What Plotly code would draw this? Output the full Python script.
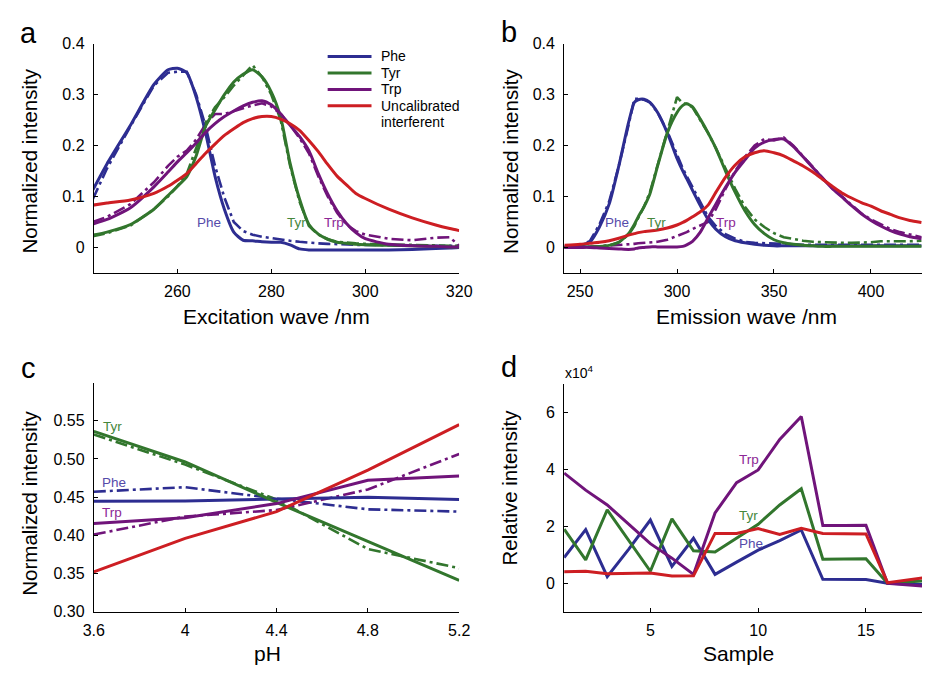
import plotly.graph_objects as go

# ---------------- Panel a: excitation spectra ----------------
ex_wl = [242, 245, 250, 255, 258, 260, 262, 264, 266, 268, 270, 272, 274, 276, 278, 280,
         282, 284, 286, 288, 290, 292, 294, 296, 298, 300, 305, 310, 315, 318, 320]
ex_phe = [0.113, 0.164, 0.240, 0.320, 0.349, 0.352, 0.343, 0.295, 0.225, 0.140, 0.075, 0.030,
          0.014, 0.013, 0.011, 0.010, 0.010, 0.005, -0.003, -0.005, -0.005, -0.005, -0.005,
          -0.005, -0.005, -0.005, -0.005, -0.004, -0.002, -0.001, 0.000]
ex_phe_p = [0.095, 0.155, 0.238, 0.318, 0.343, 0.345, 0.345, 0.300, 0.238, 0.160, 0.098, 0.050,
            0.032, 0.025, 0.021, 0.018, 0.016, 0.013, 0.011, 0.009, 0.008, 0.007, 0.006,
            0.006, 0.005, 0.005, 0.004, 0.004, 0.003, 0.003, 0.003]
ex_tyr = [0.024, 0.030, 0.045, 0.075, 0.102, 0.120, 0.139, 0.180, 0.238, 0.270, 0.300, 0.325,
          0.340, 0.349, 0.335, 0.305, 0.255, 0.165, 0.095, 0.045, 0.026, 0.016, 0.010, 0.008,
          0.006, 0.005, 0.004, 0.003, 0.002, 0.001, 0.001]
ex_tyr_p = [0.022, 0.028, 0.043, 0.075, 0.100, 0.120, 0.145, 0.195, 0.245, 0.275, 0.295, 0.318,
            0.338, 0.358, 0.335, 0.300, 0.250, 0.160, 0.090, 0.042, 0.025, 0.016, 0.011, 0.009,
            0.008, 0.007, 0.006, 0.005, 0.004, 0.004, 0.003]
ex_trp = [0.046, 0.055, 0.078, 0.119, 0.148, 0.168, 0.186, 0.205, 0.226, 0.243, 0.257, 0.268,
          0.278, 0.285, 0.288, 0.280, 0.262, 0.240, 0.218, 0.190, 0.145, 0.105, 0.072, 0.047,
          0.029, 0.017, 0.006, 0.003, 0.002, 0.001, 0.001]
ex_trp_p = [0.050, 0.060, 0.085, 0.128, 0.160, 0.178, 0.190, 0.212, 0.242, 0.262, 0.262, 0.268,
            0.274, 0.279, 0.283, 0.277, 0.262, 0.240, 0.215, 0.185, 0.140, 0.100, 0.068, 0.045,
            0.032, 0.025, 0.017, 0.014, 0.019, 0.020, 0.003]
ex_unc = [0.083, 0.087, 0.093, 0.106, 0.120, 0.132, 0.145, 0.165, 0.185, 0.203, 0.220, 0.233,
          0.245, 0.253, 0.257, 0.257, 0.252, 0.243, 0.230, 0.210, 0.188, 0.163, 0.140, 0.123,
          0.106, 0.096, 0.075, 0.058, 0.044, 0.037, 0.033]

# ---------------- Panel b: emission spectra ----------------
em_wl = [242, 250, 255, 260, 265, 270, 275, 278, 280, 283, 286, 290, 295, 300, 303, 305, 308,
         312, 316, 320, 325, 330, 335, 340, 345, 350, 355, 360, 365, 370, 375, 380, 385, 390,
         395, 400, 405, 410, 415, 420, 426]
em_phe = [0.001, 0.004, 0.010, 0.040, 0.085, 0.160, 0.245, 0.285, 0.290, 0.291, 0.285, 0.265,
          0.225, 0.175, 0.150, 0.135, 0.112, 0.082, 0.055, 0.036, 0.021, 0.013, 0.009, 0.006,
          0.004, 0.003, 0.003, 0.003, 0.003, 0.003, 0.003, 0.003, 0.003, 0.003, 0.003, 0.003,
          0.003, 0.003, 0.003, 0.003, 0.003]
em_phe_p = [0.001, 0.004, 0.012, 0.045, 0.090, 0.160, 0.240, 0.292, 0.292, 0.290, 0.285, 0.265,
            0.228, 0.180, 0.155, 0.140, 0.118, 0.088, 0.060, 0.042, 0.026, 0.017, 0.011, 0.009,
            0.008, 0.007, 0.007, 0.006, 0.005, 0.005, 0.005, 0.005, 0.005, 0.005, 0.005, 0.005,
            0.005, 0.005, 0.005, 0.005, 0.005]
em_tyr = [0.000, 0.0005, 0.001, 0.002, 0.004, 0.010, 0.027, 0.045, 0.060, 0.080, 0.105, 0.160,
          0.225, 0.265, 0.279, 0.282, 0.276, 0.252, 0.225, 0.195, 0.150, 0.108, 0.072, 0.045,
          0.027, 0.015, 0.009, 0.006, 0.004, 0.003, 0.002, 0.002, 0.002, 0.002, 0.002, 0.002,
          0.002, 0.002, 0.002, 0.002, 0.002]
em_tyr_p = [0.000, 0.0005, 0.001, 0.002, 0.004, 0.010, 0.025, 0.042, 0.058, 0.080, 0.108, 0.160,
            0.225, 0.295, 0.283, 0.282, 0.275, 0.250, 0.225, 0.195, 0.155, 0.115, 0.080, 0.055,
            0.040, 0.028, 0.020, 0.016, 0.013, 0.011, 0.010, 0.010, 0.009, 0.009, 0.009, 0.010,
            0.012, 0.012, 0.011, 0.012, 0.013]
em_trp = [0.000, 0.000, 0.000, -0.001, -0.002, -0.003, -0.004, -0.003, -0.001, 0.000, 0.001,
          0.001, 0.001, 0.001, 0.002, 0.005, 0.012, 0.030, 0.058, 0.085, 0.118, 0.148, 0.172,
          0.195, 0.207, 0.212, 0.213, 0.198, 0.178, 0.157, 0.136, 0.116, 0.099, 0.082, 0.066,
          0.053, 0.042, 0.033, 0.026, 0.021, 0.017]
em_trp_p = [0.000, 0.000, 0.001, 0.002, 0.003, 0.004, 0.006, 0.007, 0.008, 0.009, 0.010, 0.011,
            0.015, 0.022, 0.027, 0.030, 0.036, 0.043, 0.050, 0.075, 0.115, 0.150, 0.178, 0.200,
            0.213, 0.210, 0.216, 0.200, 0.178, 0.158, 0.137, 0.116, 0.100, 0.083, 0.067, 0.055,
            0.045, 0.036, 0.030, 0.026, 0.020]
em_unc = [0.004, 0.006, 0.008, 0.010, 0.013, 0.018, 0.024, 0.027, 0.029, 0.031, 0.032, 0.034,
          0.038, 0.044, 0.049, 0.053, 0.060, 0.070, 0.083, 0.108, 0.138, 0.162, 0.178, 0.186,
          0.190, 0.186, 0.180, 0.170, 0.160, 0.148, 0.134, 0.120, 0.107, 0.097, 0.088, 0.081,
          0.072, 0.065, 0.058, 0.053, 0.049]

# ---------------- Panel c: pH ----------------
ph = [3.6, 4.0, 4.4, 4.8, 5.2]
ph_tyr = [0.536, 0.496, 0.443, 0.392, 0.341]
ph_tyr_p = [0.532, 0.4925, 0.447, 0.382, 0.357]
ph_phe = [0.4445, 0.445, 0.4475, 0.4497, 0.447]
ph_phe_p = [0.457, 0.463, 0.448, 0.434, 0.431]
ph_trp = [0.4156, 0.423, 0.4415, 0.472, 0.4777]
ph_trp_p = [0.401, 0.4245, 0.433, 0.460, 0.5065]
ph_unc = [0.352, 0.396, 0.431, 0.4853, 0.545]

# ---------------- Panel d: samples (x10^4) ----------------
sample = list(range(1, 19))
s_trp = [3.87, 3.27, 2.75, 2.07, 1.39, 0.88, 0.31, 2.47, 3.53, 3.98, 5.05, 5.86, 2.03, 2.03,
         2.04, 0.00, -0.05, -0.12]
s_tyr = [1.90, 0.82, 2.58, 1.50, 0.42, 2.26, 1.14, 1.10, 1.60, 2.07, 2.75, 3.32, 0.84, 0.85,
         0.86, 0.00, 0.05, 0.10]
s_phe = [0.90, 1.88, 0.23, 1.20, 2.22, 0.59, 1.58, 0.31, 0.74, 1.16, 1.50, 1.87, 0.14, 0.14,
         0.13, 0.00, -0.02, -0.06]
s_unc = [0.40, 0.42, 0.33, 0.34, 0.36, 0.25, 0.26, 1.75, 1.75, 1.92, 1.71, 1.93, 1.75, 1.74,
         1.73, 0.02, 0.11, 0.22]

# ---------------- styling ----------------
BLUE = "rgb(45,45,145)"
GREEN = "rgb(50,118,45)"
PURPLE = "rgb(112,20,122)"
RED = "rgb(205,30,35)"
LBLUE = "rgb(85,75,170)"
LGREEN = "rgb(70,135,60)"
LPURPLE = "rgb(140,40,150)"
FONT = "Arial, Liberation Sans, sans-serif"
DASHDOT = "12px,4px,3px,4px"

W, H = 935, 674
def px_x(p):
    return p / W
def px_y(p):
    return 1 - p / H

fig = go.Figure()

def add(x, y, color, xa, ya, dash=None, width=3.0, shape="linear"):
    fig.add_trace(go.Scatter(
        x=x, y=y, mode="lines", xaxis=xa, yaxis=ya, showlegend=False,
        line=dict(color=color, width=width if dash is None else 2.6,
                  dash=dash if dash else "solid", shape=shape, smoothing=0.6 if shape == "spline" else None),
        hoverinfo="skip"))

# panel a
for ys, c in [(ex_phe_p, BLUE), (ex_tyr_p, GREEN), (ex_trp_p, PURPLE)]:
    add(ex_wl, ys, c, "x", "y", dash=DASHDOT)
for ys, c in [(ex_phe, BLUE), (ex_tyr, GREEN), (ex_trp, PURPLE), (ex_unc, RED)]:
    add(ex_wl, ys, c, "x", "y", shape="spline")
# panel b
for ys, c in [(em_phe_p, BLUE), (em_tyr_p, GREEN), (em_trp_p, PURPLE)]:
    add(em_wl, ys, c, "x2", "y2", dash=DASHDOT)
for ys, c in [(em_phe, BLUE), (em_tyr, GREEN), (em_trp, PURPLE), (em_unc, RED)]:
    add(em_wl, ys, c, "x2", "y2", shape="spline")
# panel c
for ys, c in [(ph_phe_p, BLUE), (ph_tyr_p, GREEN), (ph_trp_p, PURPLE)]:
    add(ph, ys, c, "x3", "y3", dash=DASHDOT)
for ys, c in [(ph_phe, BLUE), (ph_tyr, GREEN), (ph_trp, PURPLE), (ph_unc, RED)]:
    add(ph, ys, c, "x3", "y3")
# panel d
for ys, c in [(s_phe, BLUE), (s_tyr, GREEN), (s_trp, PURPLE), (s_unc, RED)]:
    add(sample, ys, c, "x4", "y4")

axis_common = dict(showline=True, linecolor="black", linewidth=1, ticks="inside", ticklen=4,
                   tickcolor="black", tickwidth=1, showgrid=False, zeroline=False, mirror=False,
                   tickfont=dict(family=FONT, size=16, color="black"))

dom_ax = [px_x(85), px_x(460)]
dom_bx = [px_x(567.7), 1.0]
dom_top = [px_y(271.7), px_y(36.7)]
dom_bot = [px_y(619.3), px_y(385)]

fig.update_layout(
    width=W, height=H, margin=dict(l=0, r=0, t=0, b=0),
    paper_bgcolor="white", plot_bgcolor="white", showlegend=False,
    font=dict(family=FONT, color="black"),
    xaxis=dict(domain=dom_ax, anchor="y", range=[242.2, 320], tickvals=[260, 280, 300, 320],
               ticklabelstandoff=4, **axis_common),
    yaxis=dict(domain=dom_top, anchor="x", range=[-0.05, 0.4], tickvals=[0, 0.1, 0.2, 0.3, 0.4],
               ticktext=["0", "0.1", "0.2", "0.3", "0.4"], ticklabelstandoff=5, **axis_common),
    xaxis2=dict(domain=dom_bx, anchor="y2", range=[241.8, 426.3], tickvals=[250, 300, 350, 400],
                ticklabelstandoff=4, **axis_common),
    yaxis2=dict(domain=dom_top, anchor="x2", range=[-0.05, 0.4], tickvals=[0, 0.1, 0.2, 0.3, 0.4],
                ticktext=["0", "0.1", "0.2", "0.3", "0.4"], ticklabelstandoff=5, **axis_common),
    xaxis3=dict(domain=dom_ax, anchor="y3", range=[3.6, 5.2], tickvals=[3.6, 4.0, 4.4, 4.8, 5.2],
                ticktext=["3.6", "4", "4.4", "4.8", "5.2"], ticklabelstandoff=4, **axis_common),
    yaxis3=dict(domain=dom_bot, anchor="x3", range=[0.30, 0.599],
                tickvals=[0.30, 0.35, 0.40, 0.45, 0.50, 0.55],
                ticktext=["0.30", "0.35", "0.40", "0.45", "0.50", "0.55"], ticklabelstandoff=5,
                **axis_common),
    xaxis4=dict(domain=dom_bx, anchor="y4", range=[1, 17.6], tickvals=[5, 10, 15],
                ticklabelstandoff=4, **axis_common),
    yaxis4=dict(domain=[px_y(619.3), px_y(385.7)], anchor="x4", range=[-1, 7], tickvals=[0, 2, 4, 6],
                ticklabelstandoff=5, **axis_common),
)

ann = []
def text(x, y, s, size, color="black", angle=0, xanchor="center", yanchor="middle"):
    ann.append(dict(x=px_x(x), y=px_y(y), xref="paper", yref="paper", text=s, showarrow=False,
                    font=dict(family=FONT, size=size, color=color), textangle=angle,
                    xanchor=xanchor, yanchor=yanchor))

# panel letters
text(18, 26, "a", 29)
text(511, 25, "b", 29)
text(18, 369, "c", 29)
text(511, 368, "d", 29)
# axis titles
text(272, 316, "Excitation wave /nm", 21)
text(755, 316, "Emission wave /nm", 21)
text(263, 662, "pH", 21)
text(747, 662, "Sample", 21)
text(19, 157, "Normalized intensity", 20.5, angle=-90)
text(512, 157, "Normalized intensity", 20.5, angle=-90)
text(19, 508, "Normalized intensity", 20.5, angle=-90)
text(512, 492, "Relative intensity", 20.5, angle=-90)
text(567, 373, "x10<sup>4</sup>", 14, xanchor="left")
# in-plot labels
text(203, 220, "Phe", 13.5, LBLUE)
text(293, 220, "Tyr", 13.5, LGREEN)
text(331, 220, "Trp", 13.5, LPURPLE)
text(622, 220, "Phe", 13.5, LBLUE)
text(662, 220, "Tyr", 13.5, LGREEN)
text(734, 220, "Trp", 13.5, LPURPLE)
text(104, 429, "Tyr", 13.5, LGREEN)
text(106, 487, "Phe", 13.5, LBLUE)
text(104, 518, "Trp", 13.5, LPURPLE)
text(757, 463, "Trp", 13.5, LPURPLE)
text(757, 521, "Tyr", 13.5, LGREEN)
text(760, 549, "Phe", 13.5, LBLUE)
# legend
legend_items = [("Phe", BLUE), ("Tyr", GREEN), ("Trp", PURPLE), ("Uncalibrated", RED)]
shapes = []
for i, (name, c) in enumerate(legend_items):
    yy = 49.7 + i * 16.9
    shapes.append(dict(type="line", xref="paper", yref="paper", x0=px_x(325), x1=px_x(370),
                       y0=px_y(yy), y1=px_y(yy), line=dict(color=c, width=3)))
    text(378, yy, name, 14, xanchor="left")
text(378, 49.7 + 4 * 16.9, "interferent", 14, xanchor="left")
fig.update_layout(annotations=ann, shapes=shapes)

fig.write_html("out.html")
